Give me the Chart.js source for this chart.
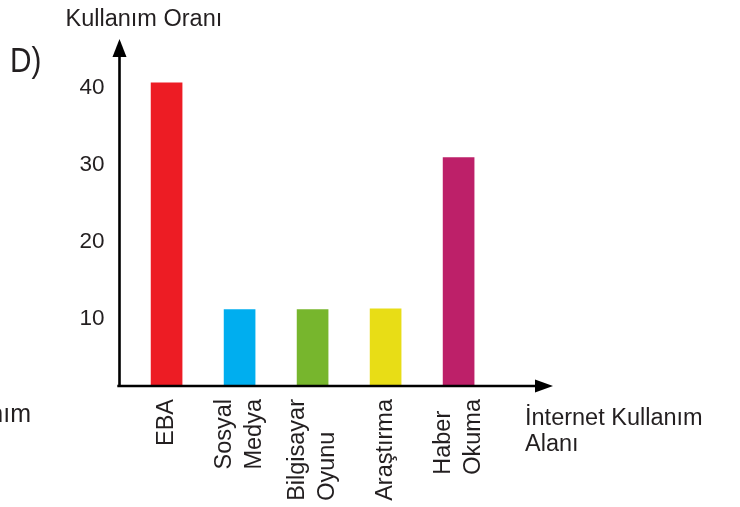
<html><head><title>Kullanım Oranı</title>
<style>
    body {
        margin: 0;
        background-color: #fff;
    }
    #wrap {
        width: 740px;
        height: 507px;
    }
</style>
<script src="https://cdn.jsdelivr.net/npm/chart.js"></script>
</head>
<body>
<div id="wrap"><canvas id="chart" width="740" height="507"></canvas></div>

<script>
// data
const categories = [['EBA'], ['Sosyal', 'Medya'], ['Bilgisayar', 'Oyunu'], ['Araştırma'], ['Haber', 'Okuma']];
const usage = [40.6, 11.2, 11.2, 11.3, 30.9];
const yTicks = [10, 20, 30, 40];
const barColors = ['#ed1c24', '#00aeef', '#77b62d', '#e8dd16', '#bd2069'];

const textColor = '#231f20';
const fontFamily = '"Liberation Sans", Arial, sans-serif';

// axes, arrows, labels and titles
const decor = {
    id: 'decor',
    afterDraw(chart) {
        const ctx = chart.ctx;
        const area = chart.chartArea;
        const x = chart.scales.x;
        ctx.save();

        // axis lines
        ctx.strokeStyle = '#000';
        ctx.fillStyle = '#000';
        ctx.lineWidth = 2.6;
        ctx.beginPath();
        ctx.moveTo(area.left, area.bottom + 1.3);
        ctx.lineTo(area.left, area.top + 12);
        ctx.moveTo(area.left - 2.2, area.bottom);
        ctx.lineTo(area.right - 12, area.bottom);
        ctx.stroke();

        // arrow heads
        ctx.beginPath();
        ctx.moveTo(area.left, area.top);
        ctx.lineTo(area.left + 7, area.top + 18);
        ctx.lineTo(area.left - 7, area.top + 18);
        ctx.closePath();
        ctx.fill();
        ctx.beginPath();
        ctx.moveTo(area.right, area.bottom);
        ctx.lineTo(area.right - 18, area.bottom - 6.5);
        ctx.lineTo(area.right - 18, area.bottom + 6.5);
        ctx.closePath();
        ctx.fill();

        // category labels, rotated, reading upwards
        ctx.fillStyle = textColor;
        ctx.font = '23.5px ' + fontFamily;
        ctx.textBaseline = 'middle';
        ctx.textAlign = 'left';
        const lineGap = 29.5;
        categories.forEach((lines, i) => {
            const cx = x.getPixelForValue(i);
            const longest = Math.max(...lines.map(l => ctx.measureText(l).width));
            const startY = area.bottom + 13 + longest;
            lines.forEach((line, j) => {
                const lx = cx + (j - (lines.length - 1) / 2) * lineGap;
                ctx.save();
                ctx.translate(lx, startY);
                ctx.rotate(-Math.PI / 2);
                ctx.fillText(line, 0, 0);
                ctx.restore();
            });
        });

        // titles
        ctx.textBaseline = 'alphabetic';
        ctx.font = '23.5px ' + fontFamily;
        ctx.fillText('Kullanım Oranı', 65.5, 26);
        ctx.fillText('İnternet Kullanım', 525, 425);
        ctx.fillText('Alanı', 525, 451);
        ctx.save();
        ctx.translate(10, 72);
        ctx.scale(0.85, 1);
        ctx.font = '35px ' + fontFamily;
        ctx.fillText('D)', 0, 0);
        ctx.restore();
        ctx.textAlign = 'right';
        ctx.font = '25px ' + fontFamily;
        ctx.fillText('Kullanım', 31, 422);
        ctx.restore();
    }
};

new Chart(document.getElementById('chart'), {
    type: 'bar',
    data: {
        datasets: [{
            data: usage.map((v, i) => ({ x: i, y: v })),
            backgroundColor: barColors,
            borderWidth: 0,
            barThickness: 31
        }]
    },
    options: {
        responsive: false,
        animation: false,
        devicePixelRatio: 1,
        layout: {
            padding: { left: 0, right: 187, top: 39, bottom: 0 }
        },
        scales: {
            x: {
                type: 'linear',
                offset: false,
                min: -0.645,
                max: 5.293,
                grid: { display: false, drawTicks: false },
                border: { display: false },
                ticks: { display: false },
                afterFit: (scale) => { scale.height = 121; }
            },
            y: {
                min: 1.31,
                max: 46.27,
                grid: { display: false, drawTicks: false },
                border: { display: false },
                afterFit: (scale) => { scale.width = 119.5; },
                afterBuildTicks: (scale) => { scale.ticks = yTicks.map(v => ({ value: v })); },
                ticks: {
                    padding: 15,
                    color: textColor,
                    font: { family: fontFamily, size: 22.5 }
                }
            }
        },
        plugins: {
            legend: { display: false },
            tooltip: { enabled: false }
        }
    },
    plugins: [decor]
});
</script>
</body></html>
